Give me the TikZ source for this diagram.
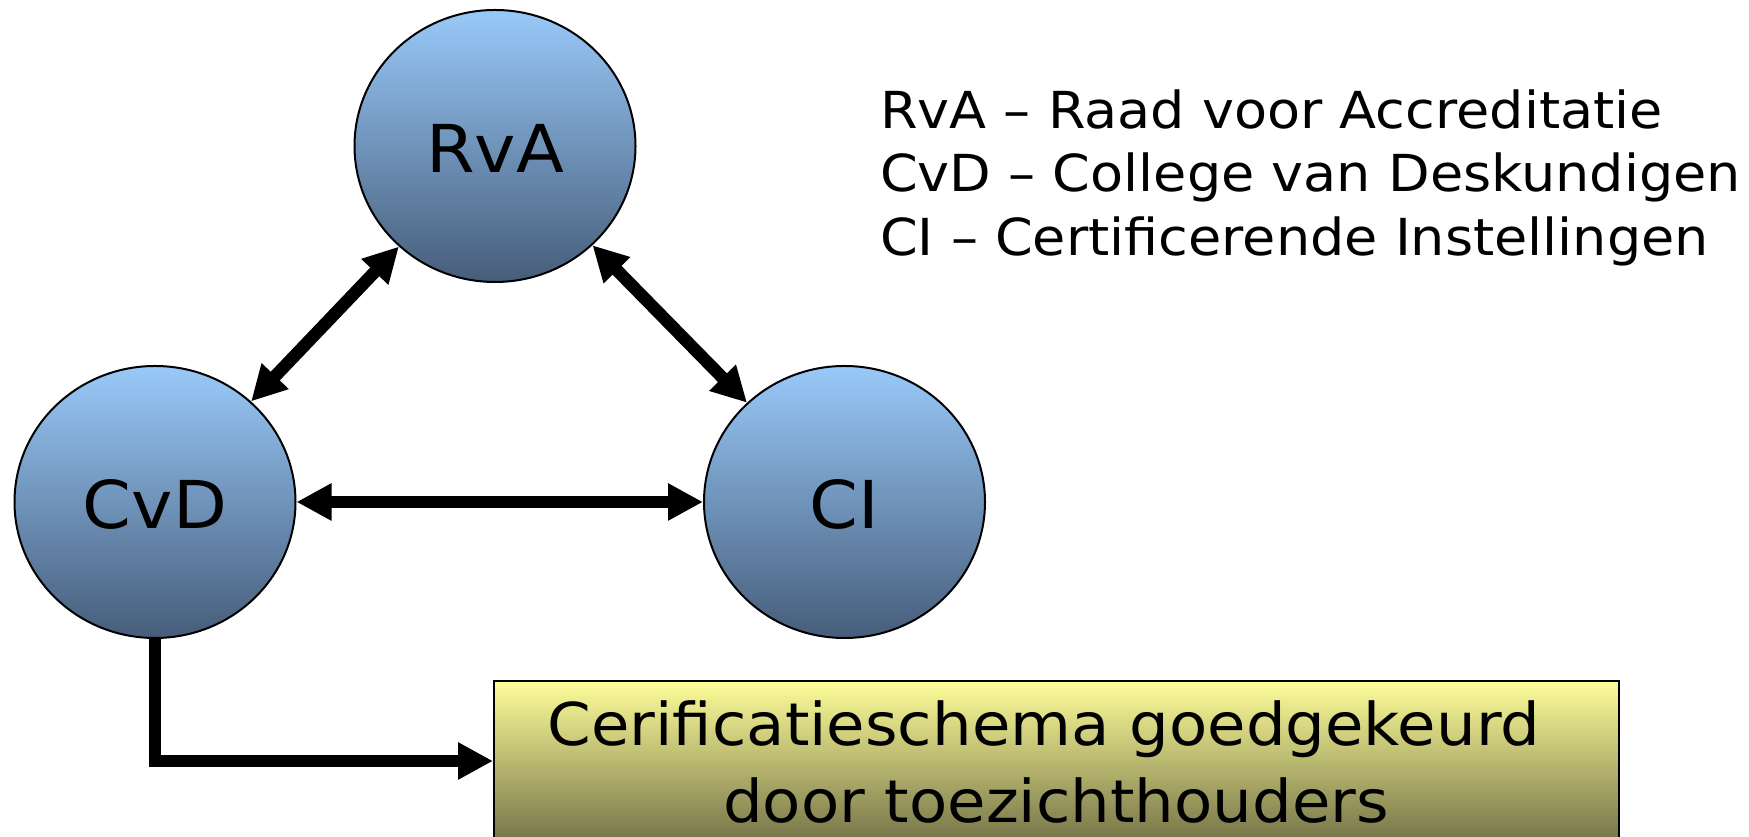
\documentclass[tikz,border=0pt]{standalone}
\usepackage{fontspec}
\setmainfont{DejaVu Sans}[FakeStretch=1.06]
\usetikzlibrary{shapes.geometric,arrows.meta}
\definecolor{circtop}{RGB}{153,201,249}
\definecolor{circbot}{RGB}{70,93,122}
\definecolor{boxtop}{RGB}{253,253,153}
\definecolor{boxbot}{RGB}{118,116,72}
\tikzset{
  orgcirc/.style={ellipse, draw=black, line width=2pt, inner sep=0pt,
    minimum width=281pt, minimum height=272pt,
    top color=circtop, bottom color=circbot,
    font=\fontsize{66}{66}\selectfont, text height=54pt, text depth=0pt},
  schemabox/.style={rectangle, draw=black, line width=2pt, inner sep=0pt,
    minimum width=1125pt, minimum height=160pt,
    top color=boxtop, bottom color=boxbot},
  boxtxt/.style={anchor=base, inner sep=0pt, font=\fontsize{59}{59}\selectfont},
  legtxt/.style={anchor=base west, inner sep=0pt, font=\fontsize{51}{51}\selectfont},
  conn/.style={line width=12.5pt, draw=black, >={Triangle[length=35pt,width=35pt]}},
}
\begin{document}
\begin{tikzpicture}[x=1pt,y=1pt]
\useasboundingbox (0,0) rectangle (1749,837);
\fill[white] (0,0) rectangle (1749,837);
\node[orgcirc] (RvA) at (495,691) {RvA};
\node[orgcirc] (CvD) at (155,335) {CvD};
\node[orgcirc] (CI) at (844.5,335) {CI};
\node[schemabox] (box) at (1056.5,76) {};
\node[boxtxt] (bt1) at (1044,91) {Cerificatieschema goedgekeurd};
\node[boxtxt] (bt2) at (1056,14) {door toezichthouders};
\node[legtxt] (l1) at (880,708) {RvA – Raad voor Accreditatie};
\node[legtxt] (l2) at (880,645) {CvD – College van Deskundigen};
\node[legtxt] (l3) at (880,581) {CI – Certificerende Instellingen};
\draw[conn, <->] (RvA) -- (CvD);
\draw[conn, <->] (RvA) -- (CI);
\draw[conn, <->] (CvD) -- (CI);
\draw[conn, ->] (CvD.south) |- (box.west);
\end{tikzpicture}
\end{document}
